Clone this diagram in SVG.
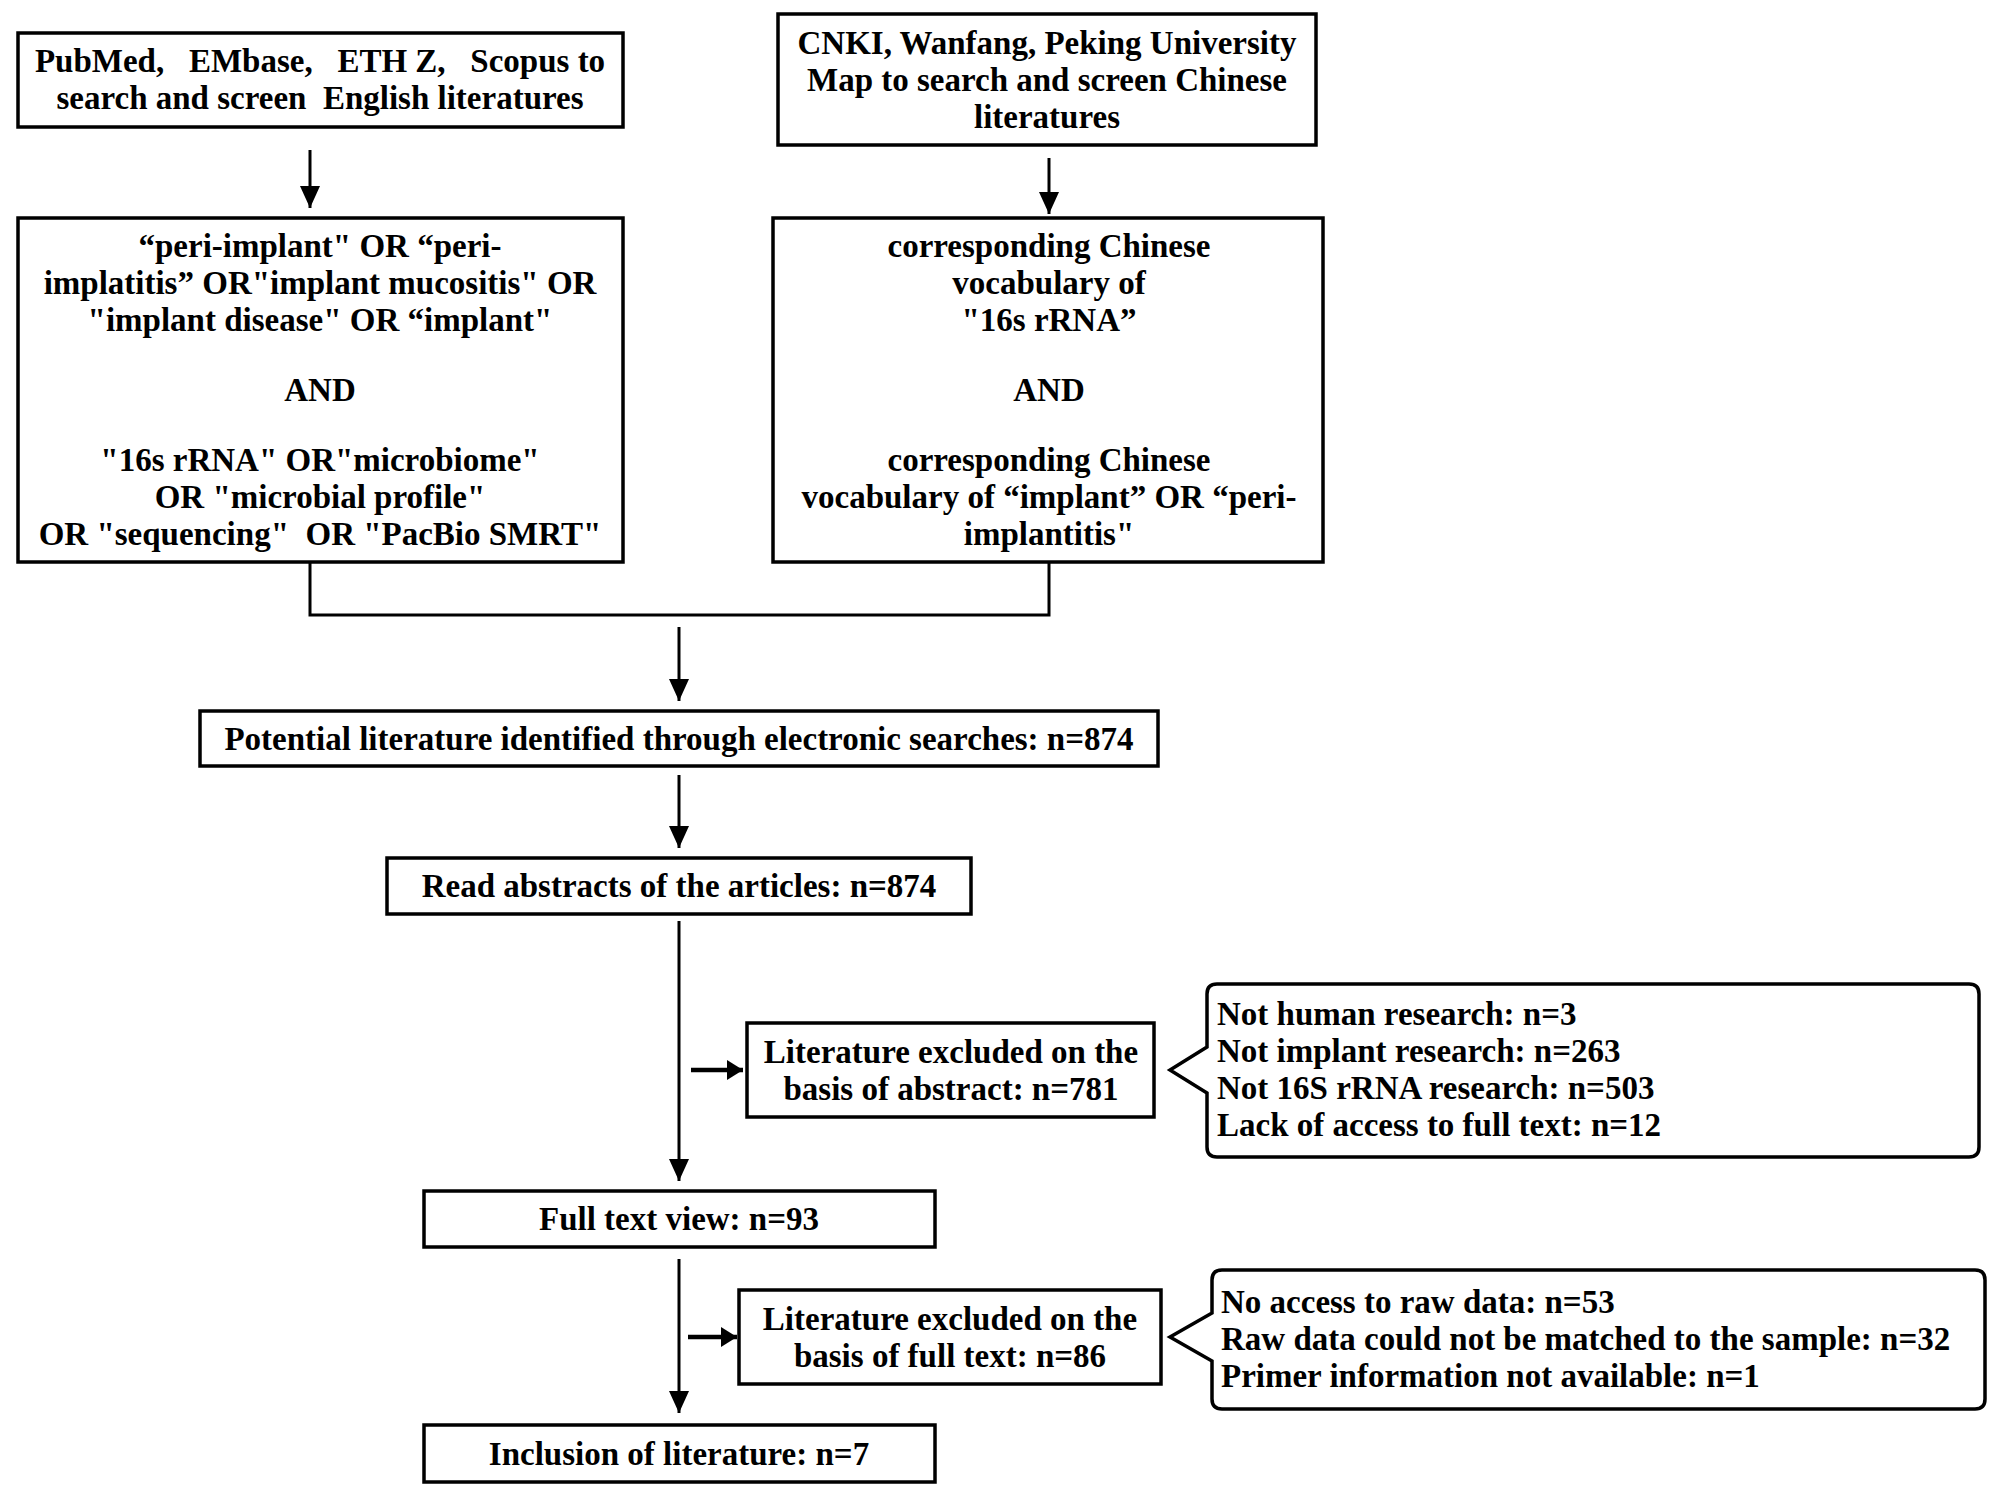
<svg xmlns="http://www.w3.org/2000/svg" width="1998" height="1498" viewBox="0 0 1998 1498">
<style>
.box{fill:#fff;stroke:#000;stroke-width:3.5}
.t{font-family:"Liberation Serif","Times New Roman",serif;font-weight:bold;font-size:33px;fill:#000}
.c{text-anchor:middle}
.ln{fill:none;stroke:#000;stroke-width:3}
.th{fill:none;stroke:#000;stroke-width:4.5}
</style>
<defs>
<marker id="ah" markerUnits="userSpaceOnUse" markerWidth="22" markerHeight="22" refX="22" refY="10" orient="auto">
<path d="M0,0 L22,10 L0,20 Z" fill="#000"/>
</marker>
<marker id="ah2" markerUnits="userSpaceOnUse" markerWidth="18" markerHeight="22" refX="16" refY="10" orient="auto">
<path d="M0,0 L16,10 L0,20 Z" fill="#000"/>
</marker>
</defs>
<rect width="1998" height="1498" fill="#fff"/>
<g id="connectors">
<line class="ln" x1="310" y1="150" x2="310" y2="208" marker-end="url(#ah)"/>
<line class="ln" x1="1049" y1="158" x2="1049" y2="214" marker-end="url(#ah)"/>
<polyline class="ln" points="310,562 310,615 1049,615 1049,562"/>
<line class="ln" x1="679" y1="627" x2="679" y2="701" marker-end="url(#ah)"/>
<line class="ln" x1="679" y1="775" x2="679" y2="848" marker-end="url(#ah)"/>
<line class="ln" x1="679" y1="921" x2="679" y2="1181" marker-end="url(#ah)"/>
<line class="th" x1="691" y1="1070" x2="743" y2="1070" marker-end="url(#ah2)"/>
<line class="ln" x1="679" y1="1259" x2="679" y2="1413" marker-end="url(#ah)"/>
<line class="th" x1="688" y1="1337" x2="737" y2="1337" marker-end="url(#ah2)"/>
</g>
<g id="n1">
<rect class="box" x="18" y="33" width="605" height="94"/>
<text class="t c" x="320" y="72" xml:space="preserve">PubMed,   EMbase,   ETH Z,   Scopus to</text>
<text class="t c" x="320" y="109" xml:space="preserve">search and screen  English literatures</text>
</g>
<g id="n2">
<rect class="box" x="778" y="14" width="538" height="131"/>
<text class="t c" x="1047" y="54">CNKI, Wanfang, Peking University</text>
<text class="t c" x="1047" y="91">Map to search and screen Chinese</text>
<text class="t c" x="1047" y="128">literatures</text>
</g>
<g id="n3">
<rect class="box" x="18" y="218" width="605" height="344"/>
<text class="t c" x="320" y="257">“peri-implant" OR “peri-</text>
<text class="t c" x="320" y="294">implatitis” OR"implant mucositis" OR</text>
<text class="t c" x="320" y="331">"implant disease" OR “implant"</text>
<text class="t c" x="320" y="401">AND</text>
<text class="t c" x="320" y="471">"16s rRNA" OR"microbiome"</text>
<text class="t c" x="320" y="508">OR "microbial profile"</text>
<text class="t c" x="320" y="545" xml:space="preserve">OR "sequencing"  OR "PacBio SMRT"</text>
</g>
<g id="n4">
<rect class="box" x="773" y="218" width="550" height="344"/>
<text class="t c" x="1049" y="257">corresponding Chinese</text>
<text class="t c" x="1049" y="294">vocabulary of</text>
<text class="t c" x="1049" y="331">"16s rRNA”</text>
<text class="t c" x="1049" y="401">AND</text>
<text class="t c" x="1049" y="471">corresponding Chinese</text>
<text class="t c" x="1049" y="508">vocabulary of “implant” OR “peri-</text>
<text class="t c" x="1049" y="545">implantitis"</text>
</g>
<g id="n5">
<rect class="box" x="200" y="711" width="958" height="55"/>
<text class="t c" x="679" y="750">Potential literature identified through electronic searches: n=874</text>
</g>
<g id="n6">
<rect class="box" x="387" y="858" width="584" height="56"/>
<text class="t c" x="679" y="897">Read abstracts of the articles: n=874</text>
</g>
<g id="n7">
<rect class="box" x="747" y="1023" width="407" height="94"/>
<text class="t c" x="951" y="1063">Literature excluded on the</text>
<text class="t c" x="951" y="1100">basis of abstract: n=781</text>
</g>
<g id="n8">
<path class="box" d="M1217,984 H1969 Q1979,984 1979,994 V1147 Q1979,1157 1969,1157 H1217 Q1207,1157 1207,1147 V1093 L1170,1070 L1207,1047 V994 Q1207,984 1217,984 Z"/>
<text class="t" x="1217" y="1025">Not human research: n=3</text>
<text class="t" x="1217" y="1062">Not implant research: n=263</text>
<text class="t" x="1217" y="1099">Not 16S rRNA research: n=503</text>
<text class="t" x="1217" y="1136">Lack of access to full text: n=12</text>
</g>
<g id="n9">
<rect class="box" x="424" y="1191" width="511" height="56"/>
<text class="t c" x="679" y="1230">Full text view: n=93</text>
</g>
<g id="n10">
<rect class="box" x="739" y="1290" width="422" height="94"/>
<text class="t c" x="950" y="1330">Literature excluded on the</text>
<text class="t c" x="950" y="1367">basis of full text: n=86</text>
</g>
<g id="n11">
<path class="box" d="M1222,1270 H1975 Q1985,1270 1985,1280 V1399 Q1985,1409 1975,1409 H1222 Q1212,1409 1212,1399 V1361 L1170,1337 L1212,1313 V1280 Q1212,1270 1222,1270 Z"/>
<text class="t" x="1221" y="1313">No access to raw data: n=53</text>
<text class="t" x="1221" y="1350">Raw data could not be matched to the sample: n=32</text>
<text class="t" x="1221" y="1387">Primer information not available: n=1</text>
</g>
<g id="n12">
<rect class="box" x="424" y="1425" width="511" height="57"/>
<text class="t c" x="679" y="1465">Inclusion of literature: n=7</text>
</g>
</svg>
